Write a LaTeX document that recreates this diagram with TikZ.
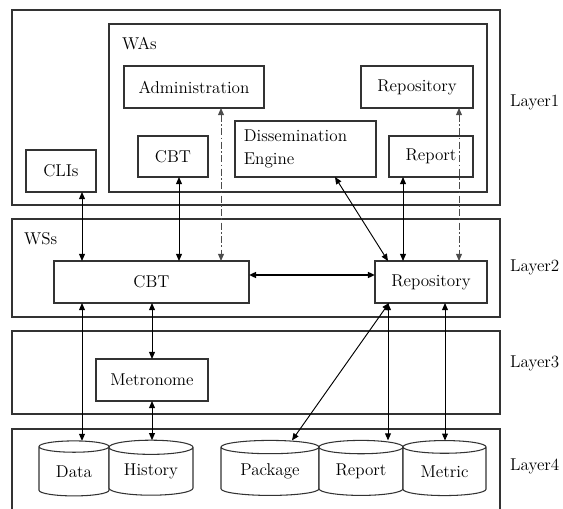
\documentclass[tikz,border=0pt]{standalone}
\usetikzlibrary{shapes.geometric, arrows.meta, positioning}

\begin{document}
\begin{tikzpicture}[
    x=0.03cm, y=-0.03cm,
    font=\rmfamily\fontsize{14.6}{17}\selectfont,
    layer/.style={draw=black!80, line width=0.9pt, minimum width=14.64cm, inner sep=0pt, outer sep=0pt},
    block/.style={draw=black!80, line width=0.9pt, fill=white, inner sep=0pt, outer sep=0pt, minimum height=1.26cm},
    store/.style={draw=black!80, line width=0.9pt, fill=white, cylinder, shape border rotate=90, inner sep=0pt, outer sep=0pt, minimum height=1.65cm},
    link/.style={{Triangle[length=6pt,width=5pt]}-{Triangle[length=6pt,width=5pt]}, line width=0.8pt},
    dashlink/.style={link, black!70, dash pattern=on 6pt off 2pt on 1.5pt off 2pt},
    lbl/.style={anchor=west, inner sep=0pt}
]
    \path[use as bounding box, clip] (0,0) rectangle (563,509);

    % Layers
    \node[layer, minimum height=5.85cm] (layerone) at (256,107.5) {};
    \node[layer, minimum height=2.94cm] (layertwo) at (256,268) {};
    \node[layer, minimum height=2.49cm] (layerthree) at (256,372.5) {};
    \node[layer, minimum height=2.73cm] (layerfour) at (256,474.5) {};
    \node[layer, minimum width=11.34cm, minimum height=5.04cm] (was) at (298,108) {};

    \node[lbl] (labone) at (510,102) {Layer1};
    \node[lbl] (labtwo) at (510,267) {Layer2};
    \node[lbl] (labthree) at (510,363) {Layer3};
    \node[lbl] (labfour) at (510,466) {Layer4};
    \node[lbl] (waslab) at (122,44) {WAs};
    \node[lbl] (wsslab) at (24,239) {WSs};

    % Layer1
    \node[block, minimum width=4.2cm] (admin) at (194,87) {Administration};
    \node[block, minimum width=2.1cm, minimum height=1.23cm] (cbtwa) at (173,156.5) {CBT};
    \node[block, minimum width=2.1cm] (cli) at (61,171) {CLIs};
    \node[block, minimum width=4.23cm, minimum height=1.68cm, align=left, text width=3.7cm,
          font=\rmfamily\fontsize{14.6}{19.5}\selectfont] (dissem) at (305.5,149) {Dissemination\\Engine};
    \node[block, minimum width=3.36cm] (repowa) at (417,87) {Repository};
    \node[block, minimum width=2.52cm, minimum height=1.23cm] (reportwa) at (431,156.5) {Report};

    % Layer2
    \node[block, minimum width=5.85cm] (cbtws) at (151.5,282) {CBT};
    \node[block, minimum width=3.36cm] (repows) at (431,282) {Repository};

    % Layer3
    \node[block, minimum width=3.36cm] (metro) at (152,380) {Metronome};

    % Layer4
    \node[store, minimum width=2.1cm, aspect=0.314] (data) at (74,471.5) {\raisebox{-2pt}{Data}};
    \node[store, minimum width=2.52cm, aspect=0.262] (history) at (151,471.5) {\raisebox{-2pt}{History}};
    \node[store, minimum width=2.94cm, aspect=0.224] (package) at (270,471.5) {\raisebox{-2pt}{Package}};
    \node[store, minimum width=2.52cm, aspect=0.262] (reportdb) at (361,471.5) {\raisebox{-2pt}{Report}};
    \node[store, minimum width=2.49cm, aspect=0.265] (metric) at (444.5,471.5) {\raisebox{-2pt}{Metric}};

    % Connections
    \draw[link] (82,0 |- cli.south) -- (82,0 |- cbtws.north);
    \draw[link] (179,0 |- cbtwa.south) -- (179,0 |- cbtws.north);
    \draw[dashlink] (221,0 |- admin.south) -- (221,0 |- cbtws.north);
    \draw[link, line width=1.5pt] (cbtws.east |- 0,275) -- (repows.west |- 0,275);
    \draw[link] (335,0 |- dissem.south) -- (388,0 |- repows.north);
    \draw[link] (403,0 |- reportwa.south) -- (403,0 |- repows.north);
    \draw[dashlink] (459,0 |- repowa.south) -- (459,0 |- repows.north);
    \draw[link] (82,0 |- cbtws.south) -- (82,0 |- data.north);
    \draw[link] (152,0 |- cbtws.south) -- (152,0 |- metro.north);
    \draw[link] (152,0 |- metro.south) -- (152,0 |- history.north);
    \draw[link] (389,0 |- repows.south) -- (292,0 |- package.north);
    \draw[link] (388,0 |- repows.south) -- (388,0 |- reportdb.north);
    \draw[link] (445,0 |- repows.south) -- (445,0 |- metric.north);

\end{tikzpicture}
\end{document}
